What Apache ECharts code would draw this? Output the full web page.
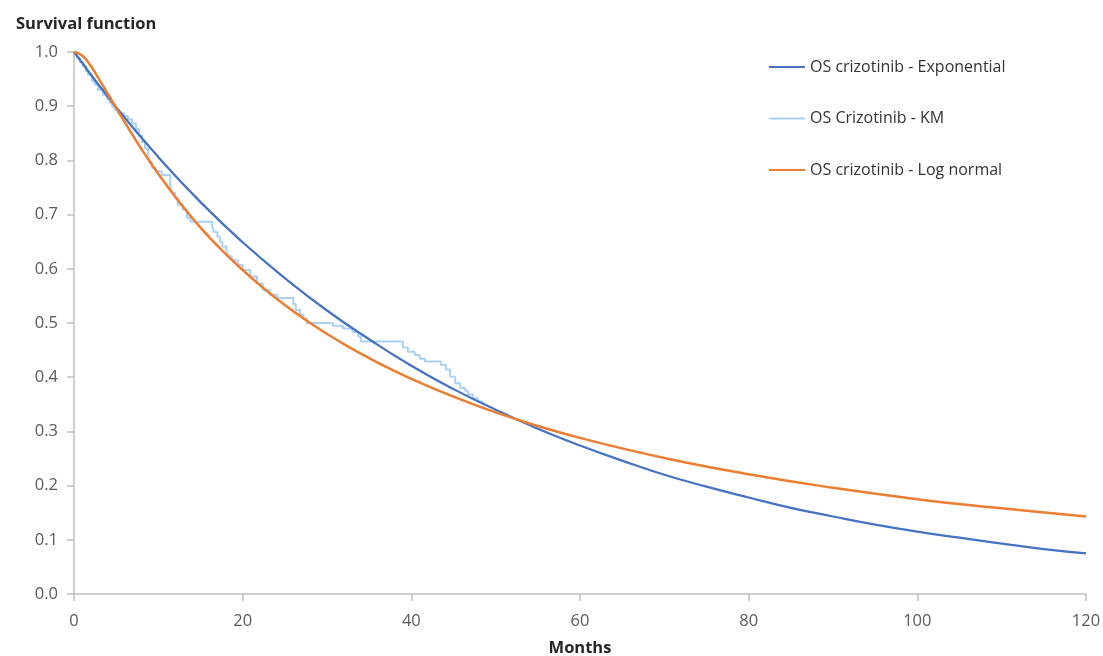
<!DOCTYPE html>
<html>
<head>
<meta charset="utf-8">
<script src="https://cdn.jsdelivr.net/npm/echarts@6/dist/echarts.min.js"></script>
<style>
  html, body { margin: 0; padding: 0; background: #fff; }
  #chart { width: 1103px; height: 656px; }
</style>
</head>
<body>
<div id="chart"></div>
<script>
// Months at which the fitted curves are sampled
const expMonths = [0, 5, 10, 15, 20, 25, 30, 35, 40, 45, 50, 55, 60, 65, 70, 75, 80, 85, 90, 95, 100, 105, 110, 115, 120];
const expSurvival = [1.000, 0.898, 0.806, 0.723, 0.649, 0.583, 0.523, 0.470, 0.421, 0.378, 0.340, 0.305, 0.274, 0.246, 0.220, 0.198, 0.178, 0.159, 0.143, 0.128, 0.115, 0.104, 0.093, 0.083, 0.075];

const logMonths = [0, 1, 2, 3, 4, 6, 8, 10, 12, 15, 18, 21, 24, 28, 32, 36, 40, 45, 50, 55, 60, 70, 80, 90, 100, 110, 120];
const logSurvival = [1.000, 0.993, 0.974, 0.949, 0.923, 0.871, 0.821, 0.775, 0.733, 0.676, 0.627, 0.584, 0.545, 0.500, 0.461, 0.427, 0.397, 0.364, 0.335, 0.310, 0.288, 0.251, 0.221, 0.196, 0.175, 0.158, 0.143];

// Kaplan-Meier estimate: survival holds from each time until the next one
const kmMonths = [0, 0.36, 0.7, 1.07, 1.4, 1.66, 2.13, 2.49, 2.85, 3.44, 3.91, 4.27, 4.51, 4.86, 5.22, 5.93, 6.4, 6.88, 7.35, 7.7, 8.06, 8.42, 8.78, 9.0, 9.25, 9.72, 10.4, 11.4, 11.6, 12.0, 12.3, 12.9, 13.4, 13.8, 16.4, 16.6, 17.0, 17.3, 17.6, 18.1, 18.7, 19.4, 20.0, 20.9, 21.7, 22.4, 23.2, 24.1, 26.0, 26.3, 26.8, 27.2, 27.6, 30.7, 31.9, 33.0, 33.7, 34.0, 39.0, 39.6, 40.4, 41.0, 41.6, 43.5, 44.1, 44.6, 45.2, 45.8, 46.4, 46.7, 47.3, 47.9, 48.4, 48.5];
const kmSurvival = [1.000, 0.990, 0.982, 0.975, 0.965, 0.958, 0.946, 0.940, 0.930, 0.921, 0.913, 0.906, 0.899, 0.893, 0.887, 0.882, 0.876, 0.868, 0.858, 0.846, 0.834, 0.822, 0.810, 0.797, 0.786, 0.780, 0.773, 0.755, 0.740, 0.730, 0.718, 0.709, 0.694, 0.687, 0.678, 0.668, 0.659, 0.650, 0.641, 0.623, 0.616, 0.607, 0.598, 0.586, 0.573, 0.561, 0.552, 0.546, 0.535, 0.524, 0.515, 0.508, 0.500, 0.495, 0.490, 0.484, 0.475, 0.466, 0.455, 0.447, 0.441, 0.434, 0.429, 0.423, 0.414, 0.401, 0.389, 0.380, 0.375, 0.368, 0.361, 0.355, 0.352, 0.352];

const xTicks = [0, 20, 40, 60, 80, 100, 120];

const seriesNames = ['OS crizotinib - Exponential', 'OS Crizotinib - KM', 'OS crizotinib - Log normal'];

const pairs = (xs, ys) => xs.map((x, i) => [x, ys[i]]);

const FONT = '"Open Sans", "Liberation Sans", sans-serif';
const AXIS_GRAY = '#BFBFBF';
const LABEL_GRAY = '#595959';

const chart = echarts.init(document.getElementById('chart'), null, { renderer: 'canvas' });

chart.setOption({
  animation: false,
  backgroundColor: '#ffffff',
  title: {
    text: 'Survival function',
    left: 11,
    top: 11,
    textStyle: { fontFamily: FONT, fontSize: 16.5, fontWeight: 'bold', color: '#262626' }
  },
  legend: {
    orient: 'vertical',
    left: 764,
    top: 54,
    icon: 'rect',
    itemWidth: 36,
    itemHeight: 2,
    itemGap: 35.5,
    data: seriesNames,
    textStyle: { fontFamily: FONT, fontSize: 16, color: '#333333' }
  },
  grid: { left: 74, right: 17, top: 52, bottom: 62, containLabel: false, outerBoundsMode: 'none' },
  xAxis: {
    type: 'value',
    min: xTicks[0],
    max: xTicks[xTicks.length - 1],
    interval: 20,
    name: 'Months',
    nameLocation: 'middle',
    nameGap: 46,
    nameTextStyle: { fontFamily: FONT, fontSize: 16.5, fontWeight: 'bold', color: '#262626' },
    axisLine: { lineStyle: { color: AXIS_GRAY, width: 1.5 } },
    axisTick: { show: true, inside: false, length: 7, lineStyle: { color: AXIS_GRAY, width: 1.5 } },
    axisLabel: { margin: 19, fontFamily: FONT, fontSize: 16.5, color: LABEL_GRAY },
    splitLine: { show: false }
  },
  yAxis: {
    type: 'value',
    min: 0,
    max: 1,
    interval: 0.1,
    axisLine: { show: true, lineStyle: { color: AXIS_GRAY, width: 1.5 } },
    axisTick: { show: true, inside: false, length: 7, lineStyle: { color: AXIS_GRAY, width: 1.5 } },
    axisLabel: {
      margin: 16,
      fontFamily: FONT,
      fontSize: 16.5,
      color: LABEL_GRAY,
      formatter: v => v.toFixed(1)
    },
    splitLine: { show: false }
  },
  series: [
    {
      name: seriesNames[0],
      type: 'line',
      data: pairs(expMonths, expSurvival),
      smooth: true,
      symbol: 'none',
      z: 3,
      lineStyle: { color: '#4472C4', width: 2.25 },
      itemStyle: { color: '#4472C4' }
    },
    {
      name: seriesNames[1],
      type: 'line',
      data: pairs(kmMonths, kmSurvival),
      step: 'end',
      symbol: 'none',
      z: 2,
      lineStyle: { color: '#A9D1F7', width: 2 },
      itemStyle: { color: '#A9D1F7' }
    },
    {
      name: seriesNames[2],
      type: 'line',
      data: pairs(logMonths, logSurvival),
      smooth: true,
      symbol: 'none',
      z: 4,
      lineStyle: { color: '#ED7D31', width: 2.5 },
      itemStyle: { color: '#ED7D31' }
    }
  ]
});
</script>
</body>
</html>
